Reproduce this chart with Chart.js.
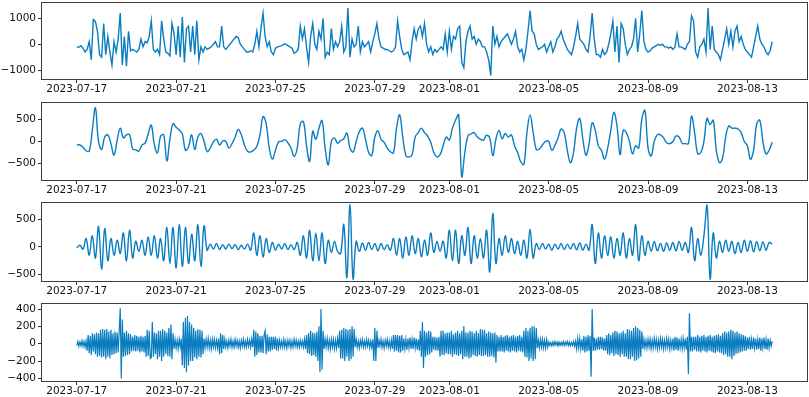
<!DOCTYPE html>
<html>
<head>
<meta charset="utf-8">
<script src="https://cdn.jsdelivr.net/npm/chart.js@4/dist/chart.umd.min.js"></script>
<style>
  html, body { margin: 0; padding: 0; background: #fff; overflow: hidden; }
  body { width: 809px; height: 397px; position: relative; }
  canvas { position: absolute; left: 0; }
</style>
</head>
<body>
<canvas id="c1" width="809" height="99" style="top:0px"></canvas>
<canvas id="c2" width="809" height="100" style="top:100px"></canvas>
<canvas id="c3" width="809" height="101" style="top:200px"></canvas>
<canvas id="c4" width="809" height="101" style="top:300px"></canvas>
<script>
const startDate = '2023-07-17';
const endDate = '2023-08-14';

// sampling step of each series, in hours
const step1 = 2;
const step2 = 3;
const step3 = 3;
const step4 = 1;

const tickDates = ['2023-07-17', '2023-07-21', '2023-07-25', '2023-07-29',
                   '2023-08-01', '2023-08-05', '2023-08-09', '2023-08-13'];

const yTicks1 = [-1000, 0, 1000];
const yTicks2 = [-500, 0, 500];
const yTicks3 = [-500, 0, 500];
const yTicks4 = [-400, -200, 0, 200, 400];

// panel 1 - raw signal, one row per day
const series1 = [
  -100, -120, -60, -150, -300, -200, 100, -600, 950, 880, 500, -400,
  -500, 800, -400, 300, -300, -800, 100, -300, 200, 1200, -800, 300,
  -850, 500, -250, -200, -250, -300, -200, 200, -100, 100, 50, 300,
  900, -200, -300, -200, -400, 900, 200, -300, -350, -450, 800, 400,
  -400, 700, -500, 1050, -700, 600, 700, -300, 700, -400, 900, -600,
  -100, -300, -100, -200, -150, -100, 0, 100, -100, -100, 700, -100,
  -200, -100, 0, 100, 200, 300, 250, 0, -100, -200, -300, -300,
  -250, -300, 0, 500, -100, 600, 1200, 300, -100, 100, -300, -400,
  -150, -100, -80, -50, 0, 0, -50, -100, -150, -350, -300, -200,
  700, 200, 600, -100, -700, 300, 800, 0, -200, 500, 200, 1000,
  -500, -300, -400, 600, -200, 100, -100, 100, 700, -300, -100, 1400,
  -500, 200, -100, 0, 700, -300, 100, -100, 0, 100, -300, 100,
  400, 800, 200, -100, -150, -200, -200, -250, -300, -250, -100, 900,
  300, -200, -400, -350, -300, -600, 100, 600, 200, 600, 700, 300,
  800, 0, -300, -100, -400, -200, -300, -200, -100, -200, 400, -300,
  500, -200, 300, 200, 600, 700, -700, -900, 100, 500, 700, 200,
  300, 0, 200, 100, -100, -100, -300, -600, -1200, 700, 0, 300,
  -100, 100, 200, 300, 400, 200, 0, 200, 500, -100, -300, -200,
  -600, -200, 500, 1300, 500, 400, 0, -200, -150, -100, 0, -300,
  -100, 100, -300, -100, 200, 300, 500, 200, 0, -200, -300, -400,
  -100, 300, 800, 200, 100, 0, -200, -300, 300, 1200, 200, -400,
  -400, -500, -200, -400, -300, 0, 400, 900, -300, 700, -700, 800,
  600, 0, -400, -200, -100, 200, 1000, -300, 400, 1300, 100, -200,
  -300, -250, -150, -100, -50, 0, -50, 0, -100, -100, -150, -100,
  -200, -100, 400, -100, -100, -150, -200, 0, 100, 1100, 900, -300,
  -500, -100, 0, 200, -300, 1400, -200, 700, -200, -300, -400, -600,
  -200, 200, 600, 0, 500, -100, 500, 700, 100, 300, 0, -200,
  -300, -400, -500, -100, 300, 700, 200, 0, -100, -300, -400, -250,
  100
];

// panel 2 - low frequency component
const series2 = [
  -80, -80, -130, -210, -220, 250, 760, 0,
  -180, 100, 150, -50, -310, 20, 300, 80,
  150, 150, -170, -190, -220, -80, -40, 170,
  370, -80, -260, 120, 150, -440, 50, 400,
  320, 260, 170, -200, -120, 150, -180, 100,
  180, 0, -230, -150, -10, 50, -80, 10,
  0, -150, -50, 100, 270, 150, -80, -220,
  -240, -200, -110, 150, 560, 400, -150, -400,
  -200, -10, 0, 40, -30, -150, -340, -150,
  400, 450, -100, -450, 230, 50, 300, 470,
  -150, -530, 0, 80, -40, 20, 60, 190,
  -150, -240, 0, 220, 300, 50, -250, -320,
  100, 240, 50, -20, -150, -230, -260, 300,
  600, 100, -320, -350, -300, 100, 200, 300,
  200, 120, -20, -250, -350, -300, -100, 100,
  30, 300, 480, 600, -800, -250, 130, 170,
  200, 100, 50, 30, 140, 80, -320, 50,
  250, 60, 180, 100, 150, -100, -250, -460,
  -520, 200, 600, 200, -180, -170, -80, 0,
  0, -200, -90, 80, 280, 200, -200, -480,
  -250, 300, 520, 50, -310, -50, 420, 250,
  -100, -200, -400, -150, 250, 660, 350, -300,
  250, 200, 0, -280, -100, -150, 500, 700,
  -150, -330, 0, 150, 150, 80, -30, -50,
  0, 120, 100, -40, -50, -50, 570, 200,
  -280, -250, 0, 520, 380, 480, -200, -480,
  -380, 100, 350, 300, 300, 280, 200, 0,
  -100, -400, -200, 400, 480, 0, -280, -200,
  -20
];

// panel 3 - mid frequency component
const series3 = [
  -20, 30, -40, 150, -150, 200, -200, 370,
  -400, 330, -250, 150, -150, 120, -120, 250,
  -250, 300, -200, 100, -80, 120, -150, 180,
  -150, 200, -200, 150, -250, 350, -300, 350,
  -380, 400, -350, 350, -300, 230, -250, 400,
  -350, 380, -60, 50, -40, 60, -50, 40,
  -40, 50, -30, 40, -50, 30, -40, 50,
  -60, 250, -150, 200, -180, 150, -100, 80,
  -60, 50, -40, 60, -50, 40, -50, 80,
  -150, 200, -200, 300, -250, 250, -250, 250,
  -300, 120, -100, 100, -80, -120, 400, -550,
  760, -580, 100, -80, 70, -60, 80, -50,
  60, -70, 60, -50, 40, -60, 150, -150,
  150, -200, 180, -150, 200, -120, 150, -180,
  120, -150, 250, -100, 100, -80, 100, -200,
  300, -250, 300, -300, 200, -150, 350, -300,
  200, -200, 150, -200, 300, -450, 600, -300,
  150, -150, 200, -100, 150, -120, 100, -150,
  120, -200, 320, -200, 60, -50, 60, -40,
  50, -60, 50, -40, 60, -50, 50, -40,
  60, -50, 70, -60, 50, -60, 400, -300,
  250, -200, 200, -150, 180, -200, 150, -150,
  250, -200, 150, -150, 400, -250, 200, -150,
  100, -80, 100, -70, 60, -80, 70, -60,
  80, -70, 100, -60, 80, -100, 350, -250,
  150, -150, 200, 750, -580, 250, -200, 100,
  -100, 120, -80, 100, -120, 80, -100, 120,
  -80, 110, -90, 100, -70, 90, -60, 80,
  50
];

// panel 4 - high frequency component, hourly, one row per day
const series4 = [
  -20, 25, -30, 20, -25, 35, -30, 25, -40, 30, -80, 100, -110, 90, -130, 120, -90, 110, -120, 130, -150, 120, -140, 160,
  -160, 170, -150, 160, -180, 170, -150, 140, -170, 160, -130, 120, -120, 140, -110, 130, -100, 150, 410, -400, 280, -150, 130, -140,
  150, -130, 120, -120, 110, -90, 80, -80, 100, -90, 90, -80, 80, -100, 90, -90, 80, -100, 90, -150, 160, -140, 150, -170,
  -160, 250, -150, 130, -120, 120, -180, 150, -150, 150, -200, 170, -150, 150, -120, 130, -140, 180, -150, 220, -180, 120, -60, 50,
  -50, 40, -60, 50, -40, 60, -250, 250, -280, 300, -330, 320, -250, 250, -200, 220, -200, 180, -160, 150, -180, 170, -150, 160,
  -160, 150, -120, 60, -50, 50, -40, 60, -50, 40, -60, 50, -40, 50, -50, 40, -50, 60, -120, 120, -110, 100, -60, 50,
  -40, 30, -50, 40, -30, 50, -40, 30, -40, 50, -30, 40, -40, 30, -50, 40, -30, 50, -40, 30, -40, 50, -30, 40,
  -40, 50, -40, 160, -150, 140, -130, 120, -100, 90, -100, 90, -110, 100, 150, -120, 110, -90, 80, -90, 80, -70, 80, -60,
  80, -80, 60, -50, 40, -40, 30, -40, 50, -40, 30, -50, 40, -30, 40, -50, 30, -40, 50, -30, 40, -40, 30, -40,
  40, -30, 30, -40, 50, -60, 100, -110, 120, -120, 150, -140, 130, -130, 120, -150, 140, -200, 200, -330, 400, -300, 150, -60,
  50, -40, 60, -50, 40, -60, 50, -40, 50, -60, 40, -50, 60, -50, 150, -170, 160, -170, 180, -200, 170, -150, 160, -200,
  170, -180, 200, -150, 170, -40, 50, -40, 30, -50, 40, -30, 50, -40, 30, -40, 50, -30, 40, -50, 30, -40, 50, -200,
  180, -200, 150, -50, 40, -30, 50, -40, 30, -50, 40, -30, 50, -40, 30, -50, 40, -60, 100, -90, 100, -80, 100, -100,
  90, -100, 100, -80, 60, -60, 50, -70, 60, -50, 70, -60, 50, -60, 70, -50, 60, -70, 50, -80, 150, -150, 250, -280,
  150, -150, 130, -130, 150, -120, 140, -100, 80, -70, 80, -80, 70, -80, 80, -150, 150, -130, 150, -130, 120, -110, 130, -120,
  130, -120, 150, -150, 110, -120, 130, -130, 150, -140, 120, -120, 150, -180, 200, -150, 130, -150, 130, -170, 150, -160, 140, -130,
  120, -140, 150, -150, 120, -130, 170, -140, 160, -140, 160, -130, 120, -150, 140, -150, 130, -140, 120, -160, 130, -220, 100, -90,
  80, -90, 100, -90, 80, -100, 90, -80, 100, -90, 80, -100, 90, -80, 100, -90, 80, -100, 90, -80, 100, -90, 80, -100,
  150, -150, 180, -160, 150, -200, 180, -170, 200, -200, 200, -180, 180, -50, 40, -50, 50, -40, 50, -50, 40, -50, 50, -40,
  20, -20, 15, -25, 20, -20, 25, -15, 20, -25, 20, -20, 15, -20, 25, -20, 20, -15, 25, -20, 20, -25, 15, -20,
  25, -30, 30, -60, 60, -50, 60, -60, 50, -80, 90, -100, 80, -90, 100, -80, 90, -380, 400, -80, 70, -80, 60, -70,
  80, -70, 80, -60, 70, -80, 60, -80, 100, -120, 120, -130, 100, -110, 130, -140, 150, -120, 140, -130, 120, -150, 130, -120,
  150, -150, 120, -150, 170, -180, 160, -180, 150, -150, 180, -200, 200, -190, 180, -170, 160, -150, 140, -60, 50, -50, 40, -50,
  50, -40, 50, -60, 40, -50, 60, -40, 50, -60, 40, -50, 60, -40, 50, -60, 40, -50, 60, -40, 50, -60, 40, -50,
  60, -80, 80, -70, 70, -80, 60, -50, 50, -60, 60, -50, 60, -70, 80, -350, 350, -90, 80, -90, 80, -70, 80, -90,
  100, -90, 80, -100, 90, -80, 100, -90, 80, -100, 90, -80, 100, -90, 80, -100, 90, -110, 100, -90, 110, -100, 90, -110,
  120, -130, 140, -120, 130, -150, 140, -150, 160, -180, 150, -140, 130, -120, 140, -110, 120, -100, 110, -90, 100, -80, 90, -80,
  70, -60, 80, -70, 50, -60, 70, -50, 60, -70, 50, -60, 70, -80, 60, -50, 70, -60, 50, -70, 60, -50, 40, -30,
  30
];

const lineColor = '#0a7dc0';
const fontFamily = 'DejaVu Sans';

const t0 = Date.parse(startDate + 'T00:00:00Z');
const tEnd = Date.parse(endDate + 'T00:00:00Z');
const pad = (tEnd - t0) * 0.05;
const toPoints = (arr, stepH) => arr.map((v, i) => ({ x: t0 + i * stepH * 3600000, y: v }));

const fmtDate = (v) => new Date(v).toISOString().slice(0, 10);
const fmtNum = (v) => (v < 0 ? '\u2212' + Math.abs(v) : String(v));

// box around the plot area, like matplotlib spines
const frame = {
  id: 'frame',
  afterDraw(chart) {
    const { ctx, chartArea: a } = chart;
    ctx.save();
    ctx.strokeStyle = '#3c3c3c';
    ctx.lineWidth = 1;
    ctx.strokeRect(Math.round(a.left) - 0.5, Math.round(a.top) - 0.5,
                   Math.round(a.right - a.left) + 1, Math.round(a.bottom - a.top) + 1);
    ctx.restore();
  }
};

const makeChart = (id, values, stepH, yTicks, yMin, yMax, padTop, tension, lw) => {
  return new Chart(document.getElementById(id), {
    type: 'line',
    data: {
      datasets: [{
        data: toPoints(values, stepH),
        borderColor: lineColor,
        borderWidth: lw,
        pointRadius: 0,
        tension: tension,
        fill: false
      }]
    },
    options: {
      responsive: false,
      animation: false,
      events: [],
      layout: { padding: { top: padTop, right: 2, left: 0, bottom: 0 } },
      plugins: { legend: { display: false }, tooltip: { enabled: false } },
      scales: {
        x: {
          type: 'linear',
          bounds: 'data',
          min: t0 - pad,
          max: tEnd + pad,
          afterBuildTicks: (s) => { s.ticks = tickDates.map(d => ({ value: Date.parse(d + 'T00:00:00Z') })); },
          afterFit: (s) => { s.height = 20; s.paddingLeft = 0; s.paddingRight = 0; },
          grid: { drawOnChartArea: false, drawTicks: true, tickLength: 4, color: '#333' },
          border: { display: false },
          ticks: {
            autoSkip: false, maxRotation: 0, padding: 0, color: '#111',
            font: { family: fontFamily, size: 10.5 },
            callback: (v) => fmtDate(v)
          }
        },
        y: {
          bounds: 'data',
          min: yMin,
          max: yMax,
          afterBuildTicks: (s) => { s.ticks = yTicks.map(v => ({ value: v })); },
          afterFit: (s) => { s.width = 42; s.paddingTop = 0; s.paddingBottom = 0; },
          grid: { drawOnChartArea: false, drawTicks: true, tickLength: 4, color: '#333' },
          border: { display: false },
          ticks: {
            padding: 2, color: '#111',
            font: { family: fontFamily, size: 10.5 },
            callback: (v) => fmtNum(v)
          }
        }
      }
    },
    plugins: [frame]
  });
};

makeChart('c1', series1, step1, yTicks1, -1340, 1590, 3, 0, 1.4);
makeChart('c2', series2, step2, yTicks2, -872, 869, 3, 0.4, 1.4);
makeChart('c3', series3, step3, yTicks3, -614, 790, 3, 0.4, 1.4);
makeChart('c4', series4, step4, yTicks4, -430, 458, 4, 0, 1.2);
</script>
</body>
</html>
